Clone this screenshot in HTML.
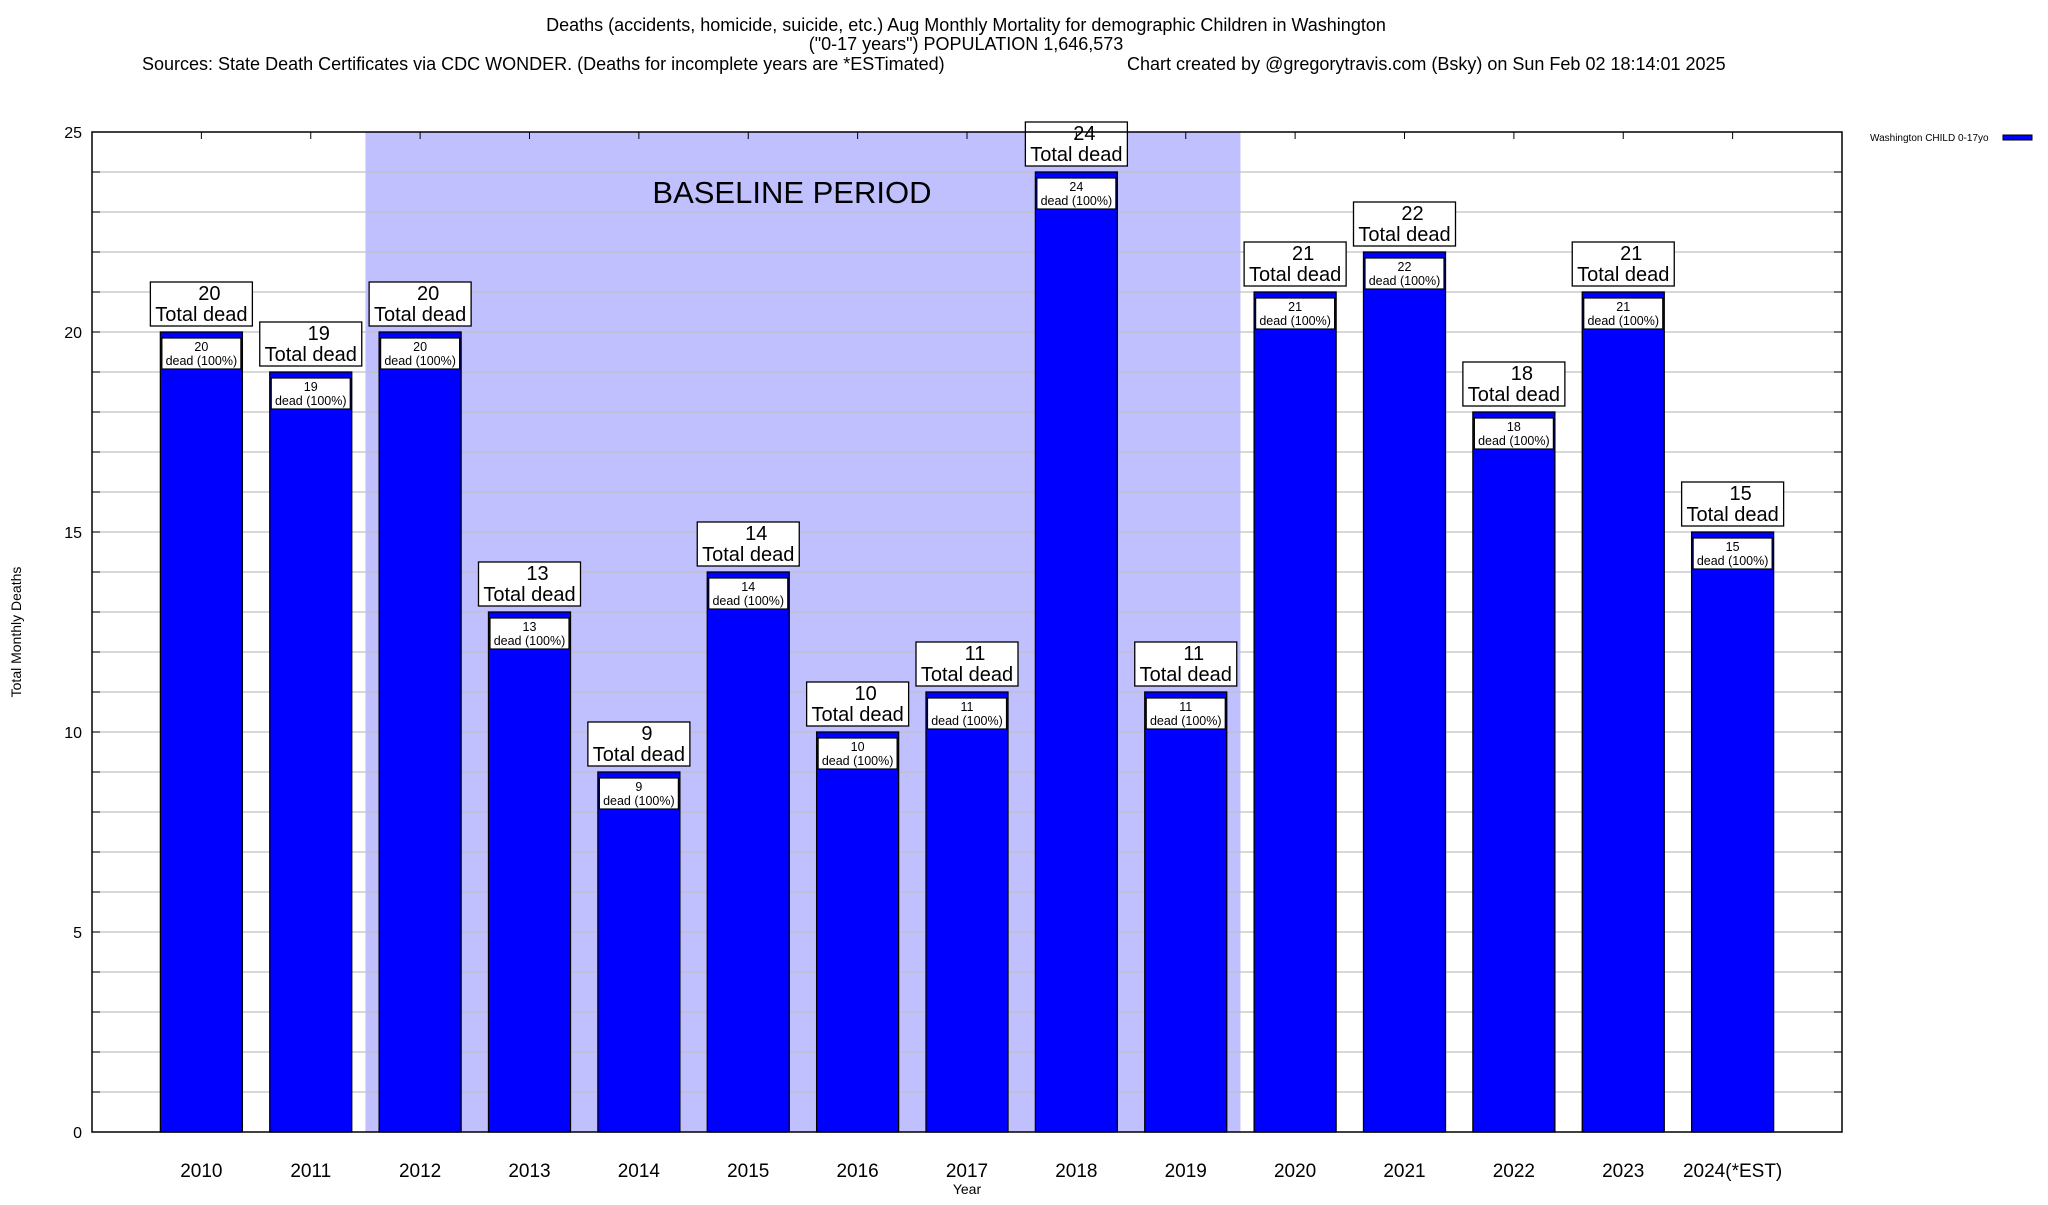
<!DOCTYPE html>
<html><head><meta charset="utf-8"><style>
body{margin:0;background:#fff;}
svg text{font-family:"Liberation Sans",Arial,sans-serif;fill:#000;}
</style></head><body>
<svg id="chart" width="2048" height="1200" xmlns="http://www.w3.org/2000/svg">
<rect width="2048" height="1200" fill="#fff"/>
<g>
<text x="966" y="31" font-size="18" text-anchor="middle">Deaths (accidents, homicide, suicide, etc.) Aug Monthly Mortality for demographic Children in Washington</text>
<text x="966" y="50" font-size="18" text-anchor="middle">("0-17 years") POPULATION 1,646,573</text>
<text x="142" y="70" font-size="18">Sources: State Death Certificates via CDC WONDER. (Deaths for incomplete years are *ESTimated)</text>
<text x="1127" y="70" font-size="18">Chart created by @gregorytravis.com (Bsky) on Sun Feb 02 18:14:01 2025</text>
</g>
<g id="plot"></g>
<text transform="translate(21,632) rotate(-90)" font-size="14" text-anchor="middle">Total Monthly Deaths</text>
<text x="967" y="1194" font-size="14" text-anchor="middle">Year</text>
<g>
<text x="1870" y="141" font-size="10">Washington CHILD 0-17yo</text>
<rect x="2003" y="135" width="29" height="5" fill="#0000ff" stroke="#000" stroke-width="1"/>
</g>
</svg>
<script>
const categories=["2010","2011","2012","2013","2014","2015","2016","2017","2018","2019","2020","2021","2022","2023","2024(*EST)"];
const values=[20,19,20,13,9,14,10,11,24,11,21,22,18,21,15];
const yTicks=[0,5,10,15,20,25];
const baselineStart="2012", baselineEnd="2019";
const L=92,R=1842,T=132,B=1132,yMax=25;
const slot=(R-L)/(categories.length+1);
const xc=i=>L+(i+1)*slot;
const y=v=>B-(B-T)*v/yMax;
const NS="http://www.w3.org/2000/svg";
const g=document.getElementById('plot');
function mk(tag,attrs,parent){const e=document.createElementNS(NS,tag);for(const k in attrs)e.setAttribute(k,attrs[k]);(parent||g).appendChild(e);return e;}
// baseline shading
const bs=categories.indexOf(baselineStart),be=categories.indexOf(baselineEnd);
const shade=mk('rect',{x:xc(bs)-slot/2,y:T,width:(be-bs+1)*slot,height:B-T,fill:'#c0c0ff'});


const bt=mk('text',{x:(xc(bs)+xc(be))/2-11,y:203,'font-size':31,'text-anchor':'middle'});
bt.textContent='BASELINE PERIOD';


// grid
for(let v=1;v<yMax;v++){
  const gl=mk('line',{x1:L,x2:R,y1:y(v),y2:y(v),stroke:'#c0c0c0','stroke-width':1.3});
  
  
  mk('line',{x1:L,x2:L+8,y1:y(v),y2:y(v),stroke:'#000','stroke-width':1});
  mk('line',{x1:R,x2:R-8,y1:y(v),y2:y(v),stroke:'#000','stroke-width':1});
}
yTicks.forEach(v=>{
  const t=mk('text',{x:82,y:y(v)+6,'font-size':16,'text-anchor':'end'});
  t.textContent=v;
  
  
});
// bars
categories.forEach((c,i)=>{
  const v=values[i],cx=xc(i),w=82,x0=cx-w/2,yt=y(v);
  const bar=mk('rect',{x:x0,y:yt,width:w,height:B-yt,fill:'#0000ff',stroke:'#000','stroke-width':1.3});
  
  
  const ib=mk('rect',{x:x0+1.5,y:yt+6,width:w-3,height:31,fill:'#fff',stroke:'#000','stroke-width':1.2});
  
  
  const t1=mk('text',{x:cx,y:yt+19,'font-size':12.5,'text-anchor':'middle'});t1.textContent=v;
  
  
  const t2=mk('text',{x:cx,y:yt+33,'font-size':12.5,'text-anchor':'middle'});t2.textContent='dead (100%)';
  
  
  const lb=mk('rect',{x:cx-51,y:yt-50,width:102,height:44,fill:'#fff',stroke:'#000','stroke-width':1.3});
  
  
  const t3=mk('text',{x:cx+8,y:yt-32,'font-size':20,'text-anchor':'middle'});t3.textContent=v;
  
  
  const t4=mk('text',{x:cx,y:yt-11,'font-size':20,'text-anchor':'middle'});t4.textContent='Total dead';
  
  
  mk('line',{x1:cx,x2:cx,y1:T,y2:T+7,stroke:'#000','stroke-width':1});
  const xl=mk('text',{x:cx,y:1177,'font-size':19,'text-anchor':'middle'});xl.textContent=c;
  
  
});
const frame=mk('rect',{x:L,y:T,width:R-L,height:B-T,fill:'none',stroke:'#000','stroke-width':1.5});


// keep label boxes above frame top line
</script>
</body></html>
